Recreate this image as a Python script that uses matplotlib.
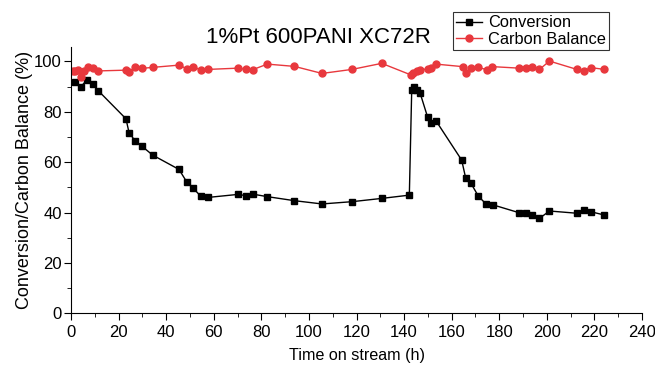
import numpy as np
import matplotlib
matplotlib.use('Agg')
import matplotlib.pyplot as plt
from matplotlib.ticker import MultipleLocator

plt.rcParams['font.family'] = ['Liberation Sans', 'DejaVu Sans']

# Conversion (%) vs time on stream (h)
t_conv = [1.7, 4.1, 6.6, 9.4, 11.5, 23.1, 24.4, 26.9, 29.7, 34.3, 45.4, 48.6,
          51.4, 54.5, 57.7, 70.3, 73.4, 76.4, 82.5, 93.9, 105.5, 118.1, 130.6,
          142.2, 143.2, 144.3, 145.3, 146.7, 149.9, 151.2, 153.4, 164.2, 165.9,
          168.1, 171.2, 174.4, 177.5, 188.4, 191.1, 193.8, 196.9, 201.1, 212.8,
          215.6, 218.5, 224.2]
conversion = [91.9, 89.9, 92.5, 91.0, 88.3, 77.2, 71.7, 68.5, 66.4, 62.8, 57.1, 52.2,
              49.6, 46.5, 46.0, 47.2, 46.7, 47.3, 46.3, 44.7, 43.4, 44.3, 45.6,
              46.9, 88.6, 89.7, 88.6, 87.5, 77.8, 75.6, 76.4, 60.8, 53.6,
              51.6, 46.5, 43.4, 43.0, 39.9, 39.9, 39.0, 37.7, 40.6, 39.7,
              41.0, 40.3, 39.0]

# Carbon balance (%)
t_cb = [1.0, 1.7, 3.1, 4.1, 5.5, 7.0, 9.4, 11.5, 23.1, 24.4, 26.9, 29.7, 34.3,
        45.4, 48.6, 51.4, 54.5, 57.7, 70.3, 73.4, 76.4, 82.5, 93.9, 105.5, 118.1,
        130.6, 142.9, 143.9, 145.3, 146.7, 150.2, 151.2, 153.4, 164.6, 165.9,
        168.1, 171.2, 174.7, 177.1, 188.3, 191.1, 193.6, 196.9, 201.1, 212.6,
        215.6, 218.5, 224.2]
carbon_balance = [96.0, 96.2, 96.5, 93.8, 96.3, 97.6, 97.2, 96.2, 96.5, 95.9, 97.6, 97.2, 97.6,
                  98.5, 97.1, 97.9, 96.5, 96.8, 97.3, 96.8, 96.7, 98.9, 98.0, 95.2, 96.8,
                  99.2, 94.6, 95.5, 96.0, 96.5, 97.1, 97.5, 98.9, 97.9, 95.5,
                  97.3, 97.6, 96.7, 97.9, 97.3, 97.3, 97.6, 96.8, 100.1, 96.8,
                  96.3, 97.5, 96.8]

fig = plt.figure(figsize=(6.55, 3.67), dpi=100)
ax = fig.add_axes([0.1084, 0.1463, 0.8718, 0.7257])

ax.plot(t_conv, conversion, 's-', color='black', lw=1.0, ms=4.5, label='Conversion')
ax.plot(t_cb, carbon_balance, 'o-', color='#E8383D', lw=1.0, ms=5, label='Carbon Balance')

ax.set_xlim(0, 240)
ax.set_ylim(0, 105.7)
ax.xaxis.set_major_locator(MultipleLocator(20))
ax.xaxis.set_minor_locator(MultipleLocator(10))
ax.yaxis.set_major_locator(MultipleLocator(20))
ax.yaxis.set_minor_locator(MultipleLocator(10))
ax.spines['top'].set_visible(False)
ax.spines['right'].set_visible(False)
ax.tick_params(which='major', direction='out', length=5, labelsize=12)
ax.tick_params(axis='y', which='major', pad=1.5)
ax.tick_params(which='minor', direction='out', length=3)

ax.set_xlabel('Time on stream (h)', fontsize=11.6, labelpad=6)
ax.set_ylabel('Conversion/Carbon Balance (%)', fontsize=13, labelpad=1)
ax.text(0.434, 1.015, '1%Pt 600PANI XC72R', transform=ax.transAxes,
        ha='center', va='baseline', fontsize=16)

leg = ax.legend(loc='upper right', bbox_to_anchor=(0.942, 1.131), fontsize=11.8,
                frameon=True, fancybox=False, edgecolor='black',
                handlelength=1.6, borderpad=0.2, labelspacing=0.1, handletextpad=0.35,
                borderaxespad=0)
leg.get_frame().set_linewidth(0.8)

fig.savefig('out.png', dpi=100)
